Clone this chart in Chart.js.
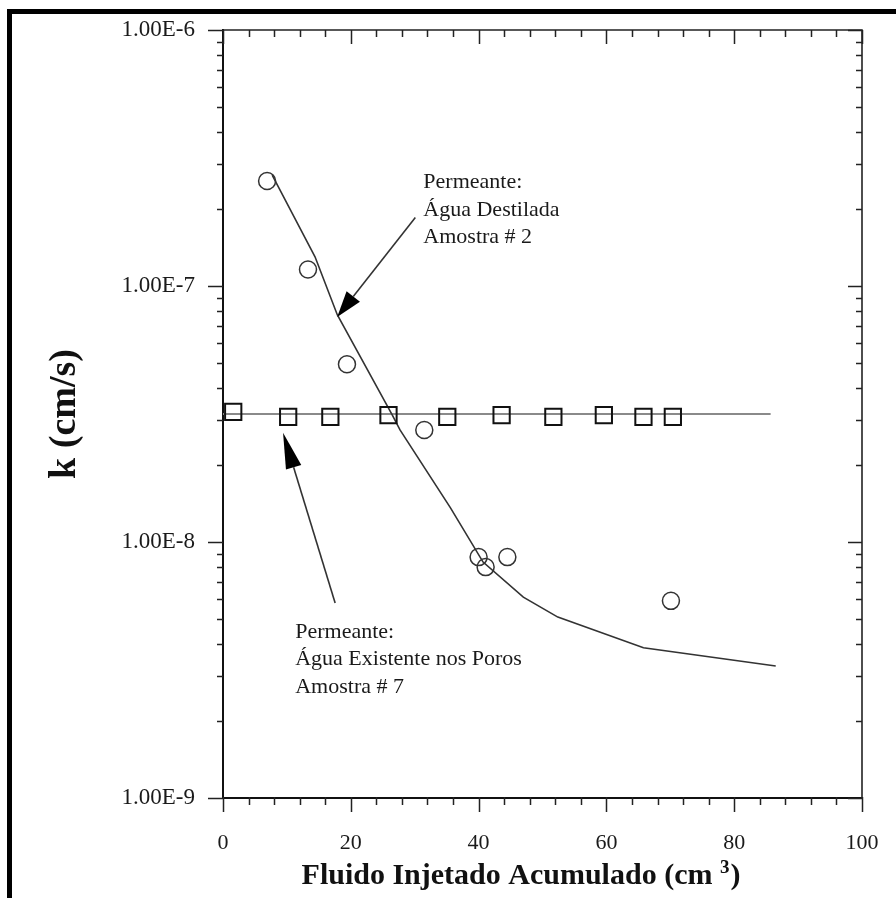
<!DOCTYPE html>
<html><head><meta charset="utf-8">
<script src="https://cdn.jsdelivr.net/npm/chart.js@4"></script>
<style>html,body{margin:0;padding:0;background:#fff;overflow:hidden}</style>
</head><body>
<canvas id="c" width="896" height="898" style="display:block"></canvas>
<script>
// ---- data ----
const circleX = [6.9, 13.3, 19.4, 31.5, 40.0, 41.1, 44.5, 70.1];
const circleK = [2.57e-7, 1.16e-7, 4.95e-8, 2.74e-8, 8.73e-9, 7.98e-9, 8.73e-9, 5.89e-9];
const squareX = [1.6, 10.2, 16.8, 25.9, 35.1, 43.6, 51.7, 59.6, 65.8, 70.4];
const squareK = [3.22e-8, 3.08e-8, 3.08e-8, 3.13e-8, 3.08e-8, 3.13e-8, 3.08e-8, 3.13e-8, 3.08e-8, 3.08e-8];
const fitX = [7.7, 14.4, 17.9, 26.5, 27.7, 35.6, 40.7, 47.0, 52.4, 65.8, 86.5];
const fitK = [2.71e-7, 1.30e-7, 7.71e-8, 3.13e-8, 2.74e-8, 1.36e-8, 8.35e-9, 6.09e-9, 5.09e-9, 3.86e-9, 3.28e-9];
const flatX = [0, 85.7];
const flatK = [3.16e-8, 3.16e-8];
const xTickValues = [0, 20, 40, 60, 80, 100];
const xTickLabels = ['0', '20', '40', '60', '80', '100'];
const yTickValues = [1e-9, 1e-8, 1e-7, 1e-6];
const yTickLabels = ['1.00E-9', '1.00E-8', '1.00E-7', '1.00E-6'];
const note1Lines = ['Permeante:', 'Água Destilada', 'Amostra # 2'];
const note2Lines = ['Permeante:', 'Água Existente nos Poros', 'Amostra # 7'];
// annotation anchors in data units
const note1At = {x: 31.35, y: 2.41e-7};
const note2At = {x: 11.3, y: 4.22e-9};
const arrow1 = {from: {x: 30.1, y: 1.85e-7}, to: {x: 17.87, y: 7.57e-8}};
const arrow2 = {from: {x: 17.55, y: 5.78e-9}, to: {x: 9.40, y: 2.67e-8}};

const pts = (xs, ys) => xs.map((x, i) => ({x: x, y: ys[i]}));

function arrow(ctx, x1, y1, x2, y2, L, W) {
  const ang = Math.atan2(y2 - y1, x2 - x1);
  const bx = x2 - L * Math.cos(ang), by = y2 - L * Math.sin(ang);
  ctx.beginPath();
  ctx.moveTo(x1, y1); ctx.lineTo(bx, by);
  ctx.stroke();
  ctx.beginPath();
  ctx.moveTo(x2, y2);
  ctx.lineTo(bx + W / 2 * Math.sin(ang), by - W / 2 * Math.cos(ang));
  ctx.lineTo(bx - W / 2 * Math.sin(ang), by + W / 2 * Math.cos(ang));
  ctx.closePath();
  ctx.fill();
}

const decor = {
  id: 'decor',
  beforeDraw(chart) {
    const ctx = chart.ctx;
    ctx.save();
    ctx.fillStyle = '#fff';
    ctx.fillRect(0, 0, chart.width, chart.height);
    ctx.fillStyle = '#000';
    ctx.fillRect(7, 9, 5, chart.height - 9);
    ctx.fillRect(7, 9, chart.width - 7, 5);
    ctx.restore();
  },
  afterDraw(chart) {
    const ctx = chart.ctx;
    const xs = chart.scales.x, ys = chart.scales.y;
    const a = chart.chartArea;
    ctx.save();
    ctx.strokeStyle = '#222';
    ctx.lineWidth = 1.6;
    // top & right frame lines
    ctx.beginPath();
    ctx.moveTo(a.left, a.top); ctx.lineTo(a.right, a.top); ctx.lineTo(a.right, a.bottom);
    ctx.stroke();
    // y ticks (log minor/major)
    ctx.lineWidth = 1.5;
    ctx.beginPath();
    for (let d = -9; d <= -6; d++) {
      for (let m = 1; m <= 9; m++) {
        const v = m * Math.pow(10, d);
        if (v > 1.0000001e-6) break;
        const py = Math.round(ys.getPixelForValue(v)) + 0.5;
        const major = m === 1;
        ctx.moveTo(a.left - (major ? 15 : 6), py); ctx.lineTo(a.left, py);
        ctx.moveTo(a.right, py); ctx.lineTo(a.right - (major ? 14 : 6), py);
      }
    }
    // x ticks
    for (let v = 0; v <= 100; v += 4) {
      const px = Math.round(xs.getPixelForValue(v)) + 0.5;
      const major = v % 20 === 0;
      ctx.moveTo(px, a.bottom - 1); ctx.lineTo(px, a.bottom + (major ? 14 : 7));
      ctx.moveTo(px, a.top); ctx.lineTo(px, a.top + (major ? 14 : 7));
    }
    ctx.stroke();

    // annotations
    ctx.fillStyle = '#1a1a1a';
    ctx.font = '22px "Liberation Serif"';
    ctx.textBaseline = 'alphabetic';
    ctx.textAlign = 'left';
    const drawNote = (lines, at) => {
      const x = xs.getPixelForValue(at.x), y = ys.getPixelForValue(at.y);
      lines.forEach((t, i) => ctx.fillText(t, x, y + i * 27.5));
    };
    drawNote(note1Lines, note1At);
    drawNote(note2Lines, note2At);
    ctx.strokeStyle = '#333';
    ctx.fillStyle = '#000';
    ctx.lineWidth = 1.6;
    [arrow1, arrow2].forEach((ar, i) => {
      arrow(ctx, xs.getPixelForValue(ar.from.x), ys.getPixelForValue(ar.from.y),
            xs.getPixelForValue(ar.to.x), ys.getPixelForValue(ar.to.y), i === 0 ? 26 : 36, i === 0 ? 17 : 16);
    });

    // x axis title with superscript
    ctx.fillStyle = '#111';
    const main = 'Fluido Injetado Acumulado (cm ';
    const f1 = 'bold 30px "Liberation Serif"', f2 = 'bold 19px "Liberation Serif"';
    ctx.font = f1; const w1 = ctx.measureText(main).width; const w3 = ctx.measureText(')').width;
    ctx.font = f2; const w2 = ctx.measureText('3').width;
    const total = w1 + w2 + w3;
    const cx = (a.left + a.right) / 2 - 22;
    let x0 = cx - total / 2;
    const base = 884;
    ctx.font = f1; ctx.fillText(main, x0, base);
    ctx.font = f2; ctx.fillText('3', x0 + w1, base - 11);
    ctx.font = f1; ctx.fillText(')', x0 + w1 + w2 + 1, base);
    ctx.restore();
  }
};

const hiddenGrid = (len) => ({display: true, drawOnChartArea: false, drawTicks: true, tickLength: len,
                              color: 'rgba(0,0,0,0)', tickColor: 'rgba(0,0,0,0)'});

new Chart(document.getElementById('c').getContext('2d'), {
  type: 'scatter',
  data: {
    datasets: [
      {data: pts(fitX, fitK), showLine: true, borderColor: '#333', borderWidth: 1.6, pointRadius: 0, tension: 0, order: 3},
      {data: pts(flatX, flatK), showLine: true, borderColor: '#8a8a8a', borderWidth: 2, pointRadius: 0, order: 4},
      {data: pts(circleX, circleK), showLine: false, pointStyle: 'circle', pointRadius: 8.5, borderColor: '#333', borderWidth: 1.5, backgroundColor: 'rgba(0,0,0,0)', order: 1},
      {data: pts(squareX, squareK), showLine: false, pointStyle: 'rect', pointRadius: 11.5, borderColor: '#111', borderWidth: 2, backgroundColor: 'rgba(0,0,0,0)', order: 2}
    ]
  },
  options: {
    responsive: false, animation: false, devicePixelRatio: 1,
    layout: {padding: {left: 0, top: 30, right: 34, bottom: 0}},
    plugins: {legend: {display: false}, tooltip: {enabled: false}},
    scales: {
      x: {
        type: 'linear', min: 0, max: 100,
        afterBuildTicks: s => { s.ticks = xTickValues.map(v => ({value: v})); },
        afterFit: s => { s.height = 100; },
        ticks: {callback: (v, i) => xTickLabels[i], padding: 2, autoSkip: false, maxRotation: 0,
                font: {family: 'Liberation Serif', size: 22}, color: '#1a1a1a'},
        grid: hiddenGrid(30),
        border: {display: true, color: '#111', width: 2}
      },
      y: {
        type: 'logarithmic', min: 1e-9, max: 1e-6,
        afterBuildTicks: s => { s.ticks = yTickValues.map(v => ({value: v})); },
        afterFit: s => { s.width = 223; },
        ticks: {callback: (v, i) => yTickLabels[i], padding: 2, autoSkip: false,
                font: {family: 'Liberation Serif', size: 23}, color: '#1a1a1a'},
        grid: hiddenGrid(26),
        border: {display: true, color: '#111', width: 2},
        title: {display: true, text: 'k (cm/s)', color: '#111',
                font: {family: 'Liberation Serif', size: 38, weight: 'bold'}, padding: {top: 42, bottom: 0}}
      }
    }
  },
  plugins: [decor]
});
</script>
</body></html>
